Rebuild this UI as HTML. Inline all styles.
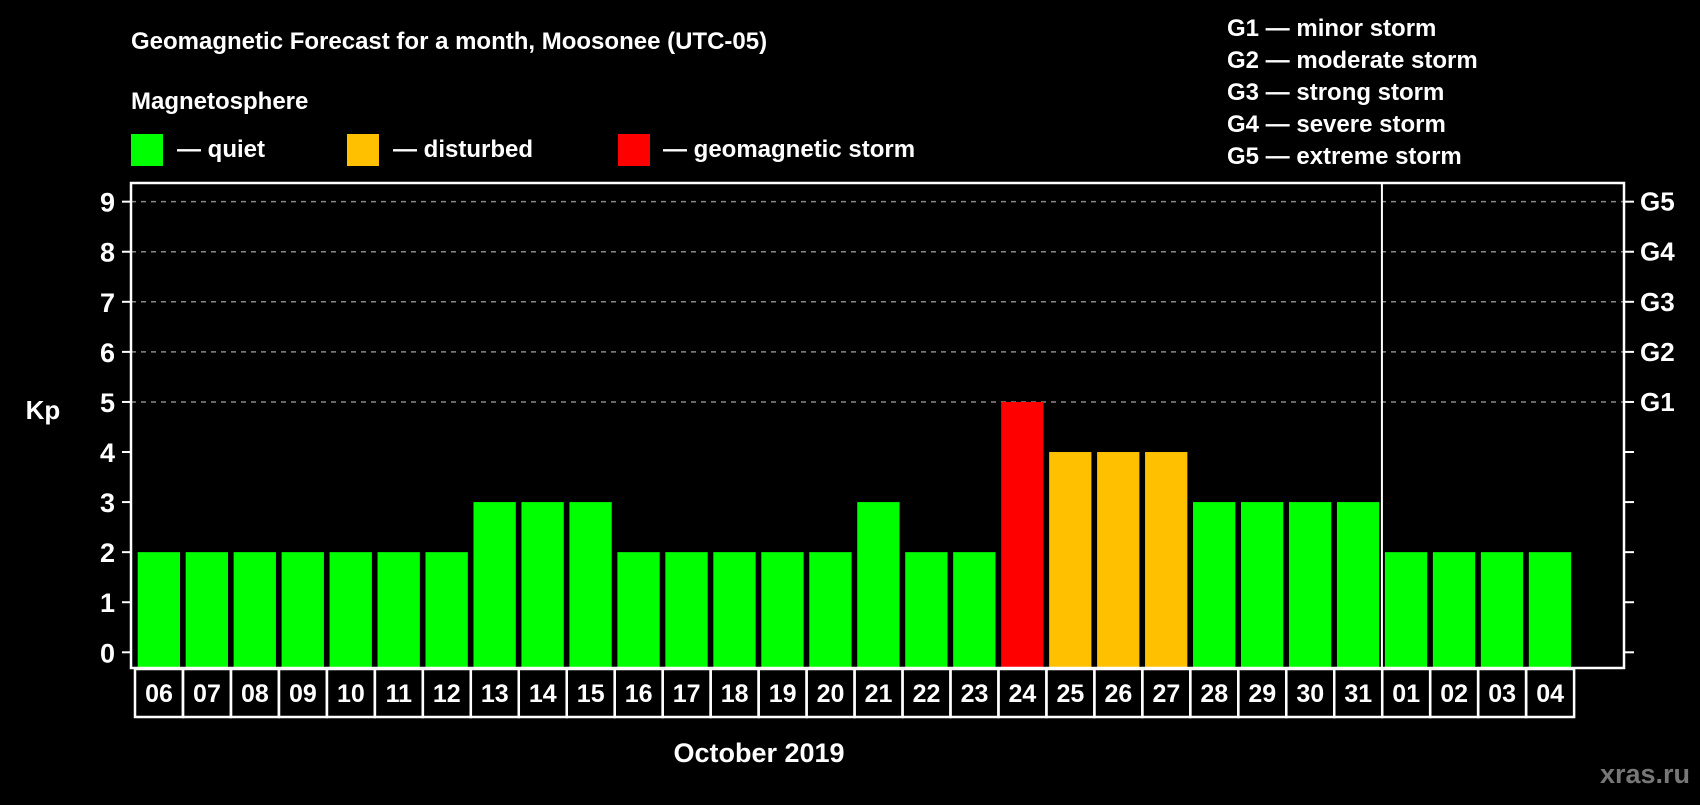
<!DOCTYPE html>
<html><head><meta charset="utf-8"><style>
body{margin:0;background:#000;width:1700px;height:800px;overflow:hidden;font-family:"Liberation Sans",sans-serif;font-weight:bold;color:#fff}
svg text{font-family:"Liberation Sans",sans-serif;font-weight:bold;fill:#fff}
</style></head><body>
<svg id="chart" width="1700" height="800">
<text x="131" y="49" font-size="24">Geomagnetic Forecast for a month, Moosonee (UTC-05)</text>
<text x="131" y="109" font-size="24">Magnetosphere</text>
<rect x="131" y="134" width="32" height="32" fill="#00ff00"/>
<text x="177" y="157" font-size="24">— quiet</text>
<rect x="347" y="134" width="32" height="32" fill="#ffc000"/>
<text x="393" y="157" font-size="24">— disturbed</text>
<rect x="618" y="134" width="32" height="32" fill="#ff0000"/>
<text x="663" y="157" font-size="24">— geomagnetic storm</text>
<g font-size="24">
<text x="1227" y="36">G1 — minor storm</text>
<text x="1227" y="68">G2 — moderate storm</text>
<text x="1227" y="100">G3 — strong storm</text>
<text x="1227" y="132">G4 — severe storm</text>
<text x="1227" y="164">G5 — extreme storm</text>
</g>
<text x="43" y="419" font-size="26" text-anchor="middle">Kp</text>
<text x="759" y="762" font-size="27" text-anchor="middle">October 2019</text>
<text x="1690" y="783" font-size="27" text-anchor="end" style="fill:#777">xras.ru</text>
<g id="grid"></g><g id="bars"></g><g id="axes"></g>
</svg>
<script>
const days=["06","07","08","09","10","11","12","13","14","15","16","17","18","19","20","21","22","23","24","25","26","27","28","29","30","31","01","02","03","04","05"].slice(0,30);
const kp=[2,2,2,2,2,2,2,3,3,3,2,2,2,2,2,3,2,2,5,4,4,4,3,3,3,3,2,2,2,2,3];
const yTicks=[0,1,2,3,4,5,6,7,8,9];
const gLabels=["G1","G2","G3","G4","G5"];
const gLevels=[5,6,7,8,9];
const NS="http://www.w3.org/2000/svg";
const L=131,R=1624,T=183,B=668,slot=47.97,bx0=137.7,bw=42.3;
function y(v){return 652.3-50.07*v;}
function xs(i){return bx0+i*slot;}
function mk(t,a,p){const e=document.createElementNS(NS,t);for(const k in a)e.setAttribute(k,a[k]);p.appendChild(e);return e;}
const grid=document.getElementById('grid'),bars=document.getElementById('bars'),axes=document.getElementById('axes');
gLevels.forEach((v,i)=>{
 const l=mk('line',{x1:L,x2:R,y1:y(v),y2:y(v),stroke:'#888','stroke-width':1.5,'stroke-dasharray':'5,5'},grid);
 
 
 const t=mk('text',{x:1640,y:y(v)+9,'font-size':26},axes);t.textContent=gLabels[i];
 
 
});
kp.slice(0,days.length).forEach((v,i)=>{
 const c=v>=5?'#ff0000':v>=4?'#ffc000':'#00ff00';
 const r=mk('rect',{x:xs(i),y:y(v),width:bw,height:B-y(v),fill:c},bars);
 
 
 const bx=mk('rect',{x:135+i*slot,y:669,width:slot,height:48,fill:'none',stroke:'#fff','stroke-width':2.5},axes);
 
 
 const t=mk('text',{x:135+i*slot+slot/2,y:702,'font-size':25,'text-anchor':'middle'},axes);t.textContent=days[i];
 
 
});
yTicks.forEach(v=>{
 const tk=mk('line',{x1:122,x2:L,y1:y(v),y2:y(v),stroke:'#fff','stroke-width':2},axes);
 
 
 const rt=mk('line',{x1:R,x2:1634,y1:y(v),y2:y(v),stroke:'#fff','stroke-width':2},axes);
 
 
 const t=mk('text',{x:115,y:y(v)+10,'font-size':27,'text-anchor':'end'},axes);t.textContent=v;
 
 
});
const fr=mk('rect',{x:L,y:T,width:R-L,height:B-T,fill:'none',stroke:'#fff','stroke-width':2.5},axes);


const dv=days.indexOf("01");
const dx=xs(dv)-3;
const d=mk('line',{x1:dx,x2:dx,y1:T,y2:B,stroke:'#fff','stroke-width':2},axes);


</script>
</body></html>
